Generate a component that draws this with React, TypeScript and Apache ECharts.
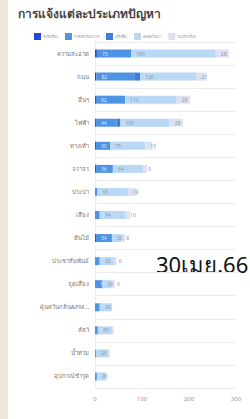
import React, { useEffect, useRef } from "react";
import * as echarts from "echarts";

const categories = [
  "ความสะอาด", "ถนน", "อื่นๆ", "ไฟฟ้า", "ทางเท้า", "จราจร", "ประปา", "เสียง",
  "ต้นไม้", "ประชาสัมพันธ์", "จุดเสี่ยง", "ฝุ่นควันกลิ่น&PM2.5", "สัตว์", "น้ำท่วม", "อุปกรณ์ชำรุด",
];
const seriesNames = ["รอรับเรื่อง", "กำลังดำเนินการ", "เสร็จสิ้น", "ส่งต่อ(ใหม่)", "ไม่เกี่ยวข้อง"];
const waiting = [4, 3, 2, 2, 2, 2, 0, 0, 2, 0, 0, 0, 0, 0, 0];
const inProgress = [73, 82, 62, 44, 30, 36, 5, 10, 34, 10, 16, 10, 6, 2, 4];
const finished = [0, 11, 0, 8, 0, 0, 0, 0, 0, 0, 0, 0, 0, 0, 0];
const forwarded = [180, 120, 110, 105, 75, 64, 65, 54, 20, 30, 20, 26, 30, 26, 20];
const irrelevant = [28, 21, 28, 28, 15, 9, 19, 10, 8, 6, 6, 0, 4, 4, 0];
const xTicks = [0, 100, 200, 300];
const stamp = "30เมย.66";
const title = "การแจ้งแต่ละประเภทปัญหา";

const colors = ["#2347d6", "#4f93e4", "#3f7fd6", "#b9d8f5", "#dde0f0"];

export default function App() {
  const ref = useRef<HTMLDivElement>(null);
  useEffect(() => {
    document.body.style.margin = "0";
    const chart = echarts.init(ref.current!, null, { renderer: "svg" });
    const data = [waiting, inProgress, finished, forwarded, irrelevant];
    chart.setOption({
      animation: false,
      backgroundColor: "#ffffff",
      color: colors,
      textStyle: { fontFamily: "Noto Sans, sans-serif" },
      title: {
        text: title,
        left: 13,
        top: 2,
        textStyle: { fontSize: 12, fontWeight: "bold", color: "#444", fontFamily: "Noto Sans" },
      },
      legend: {
        data: seriesNames,
        top: 28,
        left: 29,
        itemWidth: 7,
        itemHeight: 7,
        itemGap: 7,
        icon: "rect",
        textStyle: { fontSize: 3.8, color: "#999", padding: [0, 0, 0, -3] },
      },
      graphic: [
        { type: "rect", left: 0, top: 0, shape: { width: 8, height: 419 }, style: { fill: "#efe6da" } },
        {
          type: "text",
          left: 156,
          top: 253,
          style: { text: stamp, fontSize: 22, fill: "#111", fontFamily: "Noto Sans" },
        },
      ],
      grid: { left: 95, right: 14, top: 42, bottom: 31 },
      xAxis: {
        type: "value",
        min: 0,
        max: 300,
        interval: 100,
        axisLabel: {
          fontSize: 6,
          color: "#999",
          formatter: (v: number) => (xTicks.includes(v) ? String(v) : ""),
        },
        axisLine: { show: false },
        axisTick: { show: false },
        splitLine: { show: false },
      },
      yAxis: {
        type: "category",
        data: categories,
        inverse: true,
        axisLabel: {
          fontSize: 6,
          color: "#777",
          margin: 6,
          formatter: (v: string) => (v.length > 16 ? v.slice(0, 16) + "..." : v),
        },
        axisLine: { lineStyle: { color: "#eee" } },
        axisTick: { show: false },
        splitLine: { show: true, lineStyle: { color: "#ececec" } },
      },
      series: seriesNames.map((name, i) => ({
        name,
        type: "bar",
        stack: "total",
        barWidth: 8,
        data: data[i],
        label: {
          show: true,
          position: "insideLeft",
          fontSize: 5,
          color: i === 1 || i === 2 ? "#dbe8f8" : "#8a9bb0",
          formatter: (p: any) => (p.value >= 5 ? String(p.value) : ""),
        },
      })),
    });
    return () => chart.dispose();
  }, []);
  return <div ref={ref} style={{ width: 250, height: 419 }} />;
}
